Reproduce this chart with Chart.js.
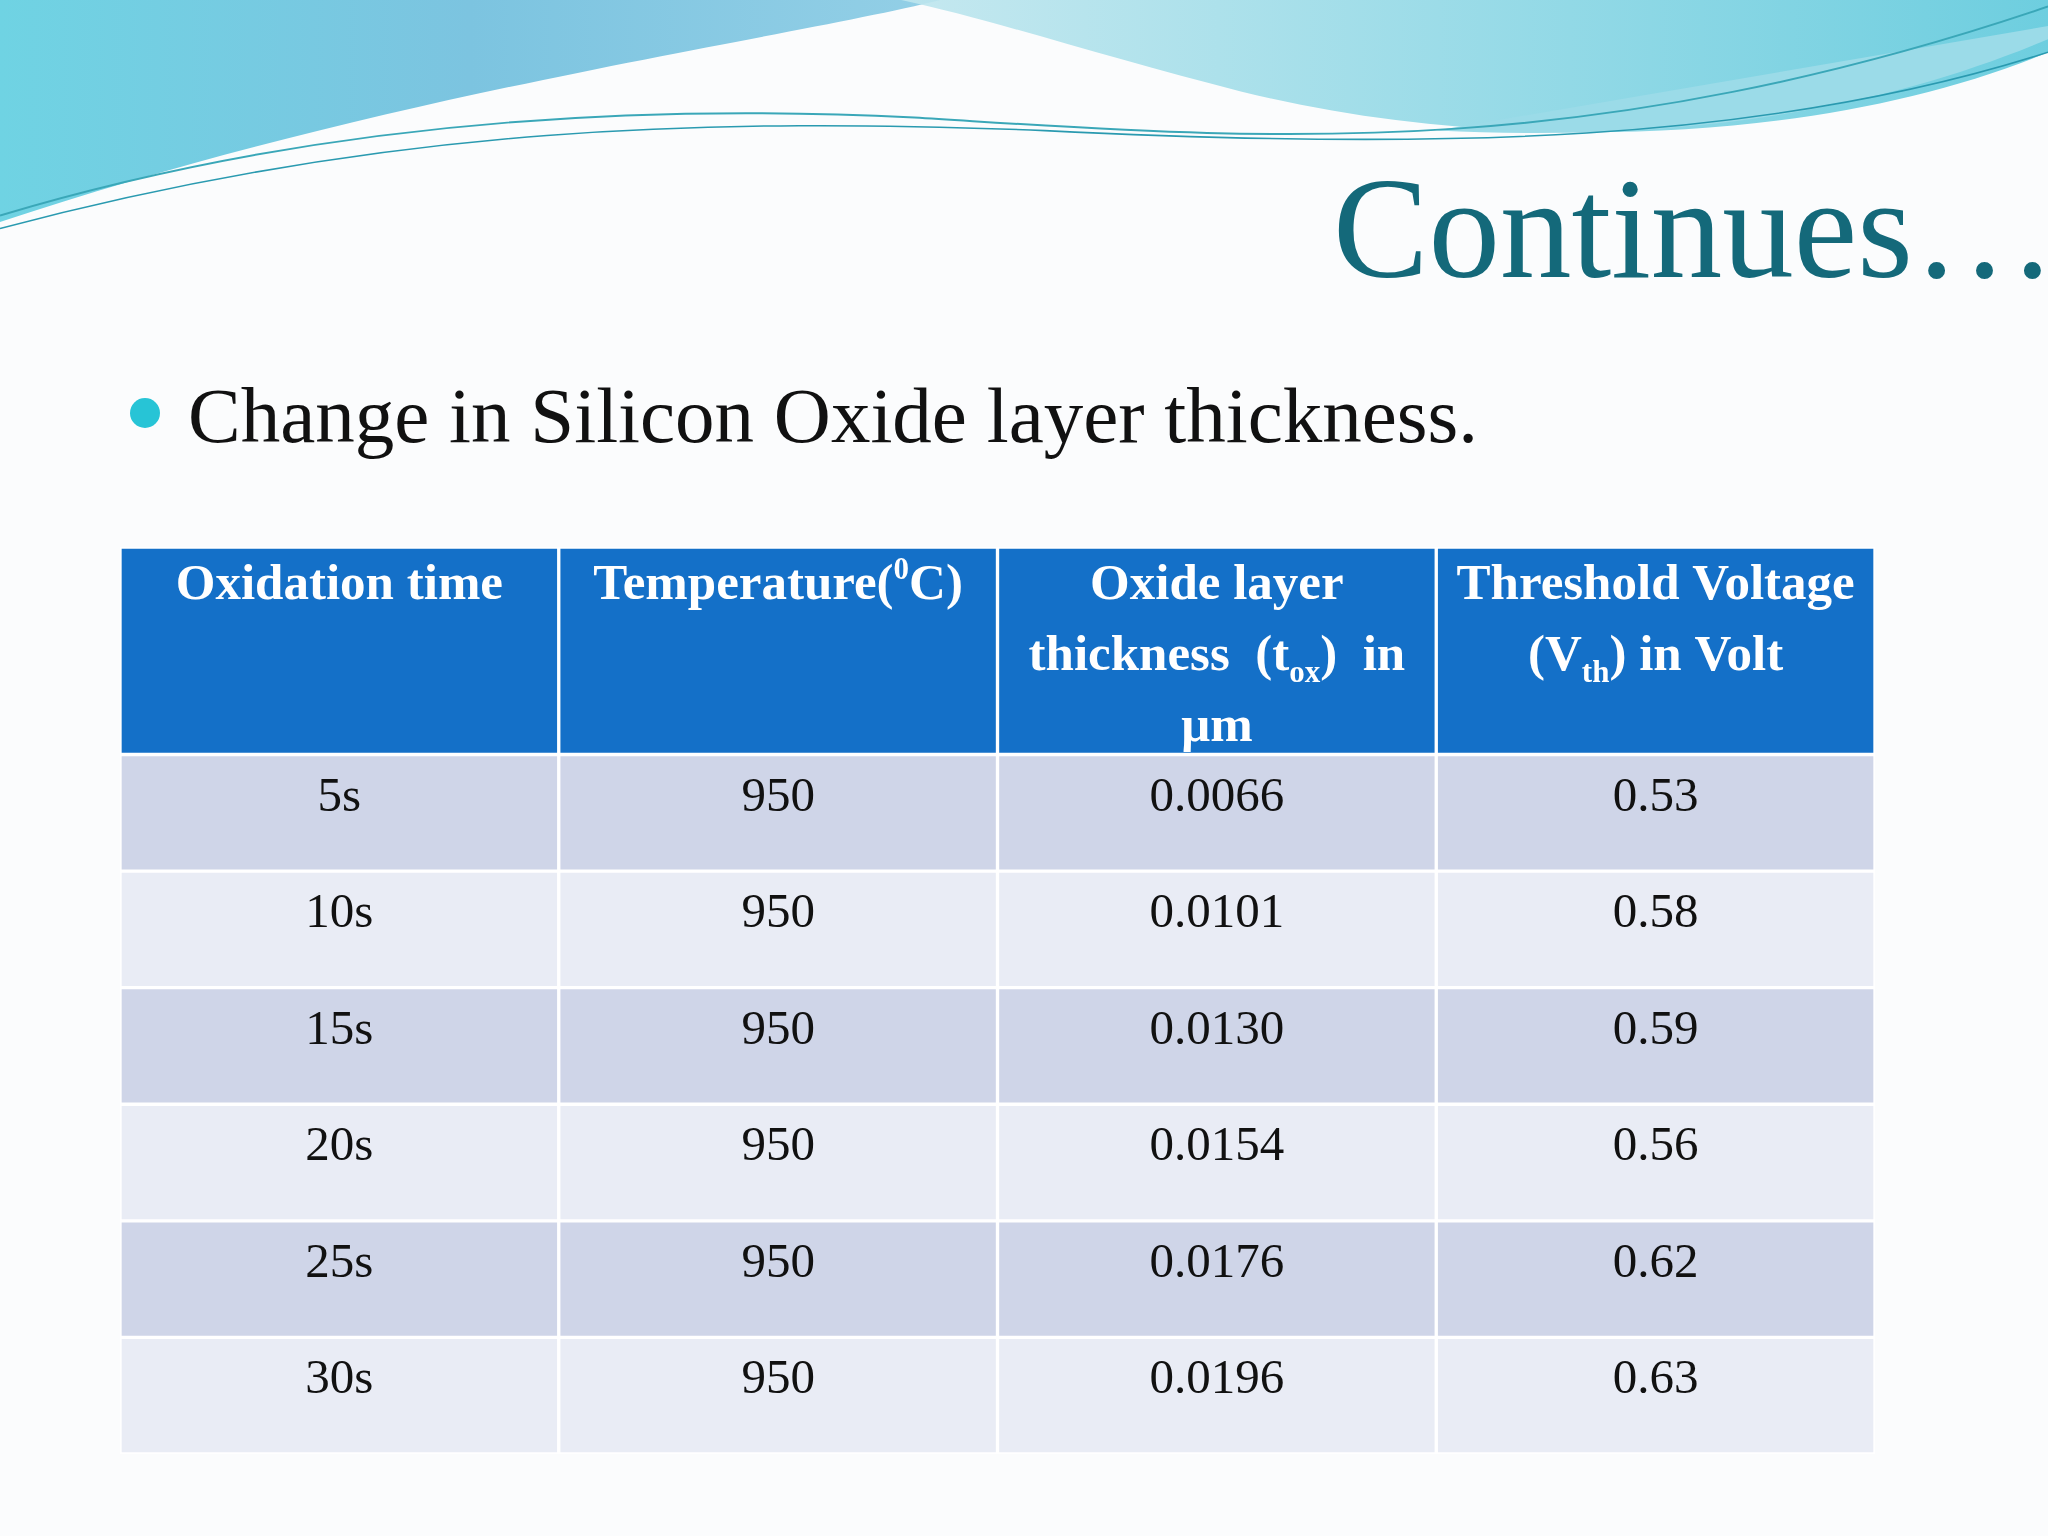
<!DOCTYPE html>
<html><head><meta charset="utf-8">
<script src="https://cdn.jsdelivr.net/npm/chart.js@4"></script>
<style>
html,body{margin:0;padding:0;width:2048px;height:1536px;background:#fbfcfd;overflow:hidden;font-family:"Liberation Serif",serif}
#bg{position:absolute;left:0;top:0}
#title{position:absolute;right:-8px;top:158px;font-size:143px;color:#14697a;line-height:1}
#bullet{position:absolute;left:130px;top:376px;font-size:79px;color:#111;line-height:1}
#bullet:before{content:"";display:inline-block;width:30px;height:30px;border-radius:50%;background:#27c4d6;margin-right:28px;vertical-align:14px}
#wrap{position:absolute;left:0;top:0;width:2048px;height:1536px}
</style></head><body>
<svg id="bg" width="2048" height="1536" viewBox="0 0 1568 1176">
<defs>
<linearGradient id="g1" x1="0" y1="0" x2="1" y2="0"><stop offset="0" stop-color="#6fd3e3"/><stop offset="0.5" stop-color="#7cc4e0"/><stop offset="1" stop-color="#93cfe6"/></linearGradient>
<linearGradient id="g2" x1="0" y1="0" x2="1" y2="0"><stop offset="0" stop-color="#bfe6ee"/><stop offset="1" stop-color="#5ec9dc"/></linearGradient>
</defs>
<path d="M0,0 L720,0 C600,30 300,70 0,170 Z" fill="url(#g1)"/>
<path d="M690,0 L1568,0 L1568,40 C1400,110 1150,120 950,70 C850,45 760,15 690,0 Z" fill="url(#g2)" opacity="0.9"/>
<path d="M1568,30 C1450,80 1300,110 1100,100 L1568,20 Z" fill="#9bdbe8"/>
<path d="M0,165 C250,90 500,80 700,90 C950,105 1200,130 1568,5" stroke="#3aa7b8" stroke-width="1.5" fill="none"/>
<path d="M0,175 C300,95 550,90 800,100 C1100,115 1350,110 1568,40" stroke="#2a9ab0" stroke-width="1.2" fill="none"/>
</svg>
<div id="title">Continues…</div>
<div id="bullet">Change in Silicon Oxide layer thickness.</div>
<div id="wrap"><canvas id="c" width="2048" height="1536"></canvas></div>
<script>
const columns = ["Oxidation time","Temperature","Oxide layer thickness","Threshold Voltage"];
const times = ["5s","10s","15s","20s","25s","30s"];
const temps = ["950","950","950","950","950","950"];
const thickness = ["0.0066","0.0101","0.0130","0.0154","0.0176","0.0196"];
const vth = ["0.53","0.58","0.59","0.56","0.62","0.63"];
const headerUnits = 1.78;

const headerLines = [
  [[["Oxidation time","n"]]],
  [[["Temperature(","n"],["0","sup"],["C)","n"]]],
  [[["Oxide layer","n"]],[["thickness  (t","n"],["ox","sub"],[")  in","n"]],[["µm","n"]]],
  [[["Threshold Voltage","n"]],[["(V","n"],["th","sub"],[") in Volt","n"]]]
];

const datasets = [];
datasets.push({data: columns.map(()=>[0,headerUnits]), backgroundColor:"#1470c8"});
times.forEach((t,r)=>{
  datasets.push({data: columns.map(()=>[headerUnits+r, headerUnits+r+1]), backgroundColor: r%2===0?"#cfd5e8":"#e9ecf5"});
});
datasets.forEach(d=>{d.borderColor="#ffffff";d.borderWidth=2;d.borderSkipped=false;d.grouped=false;d.barPercentage=1;d.categoryPercentage=1;});

const textPlugin = {
  id:"txt",
  afterDatasetsDraw(chart){
    const ctx=chart.ctx, x=chart.scales.x, y=chart.scales.y;
    ctx.save();
    ctx.textBaseline="alphabetic";
    const hs=51, fs=49;
    headerLines.forEach((lines,c)=>{
      const cx=x.getPixelForValue(c);
      lines.forEach((segs,li)=>{
        const base=y.getPixelForValue(0)+52+li*71;
        let w=0;
        segs.forEach(([s,t])=>{ctx.font="bold "+(t==="n"?hs:31)+"px 'Liberation Serif'";w+=ctx.measureText(s).width;});
        let px=cx-w/2;
        ctx.fillStyle="#ffffff";ctx.textAlign="left";
        segs.forEach(([s,t])=>{
          ctx.font="bold "+(t==="n"?hs:31)+"px 'Liberation Serif'";
          const dy=t==="sub"?12:(t==="sup"?-20:0);
          ctx.fillText(s,px,base+dy);px+=ctx.measureText(s).width;
        });
      });
    });
    const cols=[times,temps,thickness,vth];
    ctx.font=fs+"px 'Liberation Serif'";ctx.fillStyle="#111";ctx.textAlign="center";
    times.forEach((_,r)=>{
      const base=y.getPixelForValue(headerUnits+r)+56;
      cols.forEach((arr,c)=>ctx.fillText(arr[r],x.getPixelForValue(c),base));
    });
    ctx.restore();
  }
};

new Chart(document.getElementById("c"),{
  type:"bar",
  data:{labels:columns,datasets},
  options:{
    responsive:false,animation:false,
    layout:{padding:{left:120,right:173,top:547,bottom:82}},
    plugins:{legend:{display:false},tooltip:{enabled:false}},
    scales:{
      x:{display:false,offset:true},
      y:{display:false,reverse:true,min:0,max:headerUnits+times.length}
    }
  },
  plugins:[textPlugin]
});
</script>
</body></html>
